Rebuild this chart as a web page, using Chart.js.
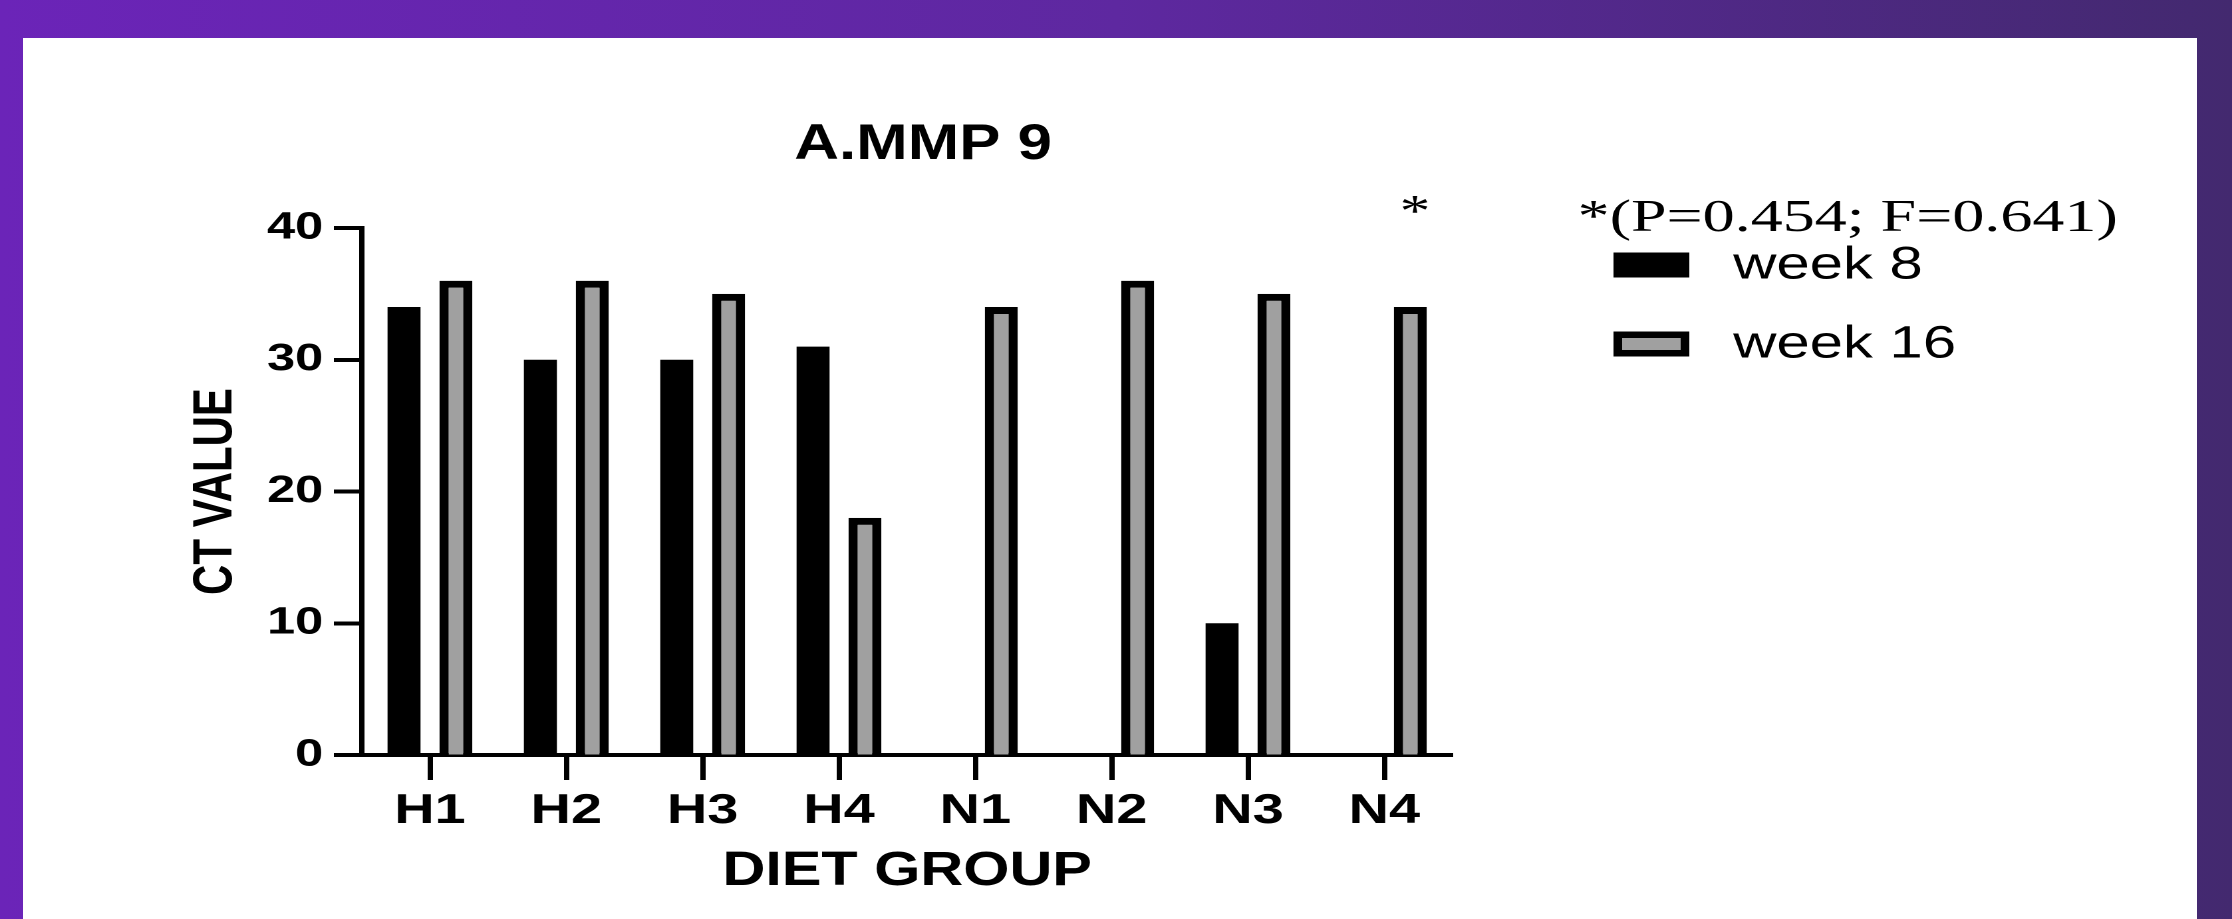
<!DOCTYPE html>
<html>
<head>
<meta charset="utf-8">
<script src="https://cdn.jsdelivr.net/npm/chart.js@4.4.1/dist/chart.umd.min.js"></script>
<style>
  html, body { margin: 0; padding: 0; width: 2232px; height: 919px; overflow: hidden; }
  body { background: linear-gradient(90deg, #6b24b8 0%, #5e28a0 50%, #43296f 100%); position: relative; }
  #card { position: absolute; left: 23px; top: 38px; width: 2174px; height: 881px; background: #ffffff; }
  #c { position: absolute; left: 0; top: 0; }
</style>
</head>
<body>
<div id="card"></div>
<canvas id="c" width="1678" height="919" style="width:2232px;height:919px;"></canvas>
<script>
// ---- data ----
const categories = ['H1', 'H2', 'H3', 'H4', 'N1', 'N2', 'N3', 'N4'];
const week8 = [34, 30, 30, 31, 0, 0, 10, 0];
const week16 = [36, 36, 35, 18, 34, 36, 35, 34];
const yTicks = [0, 10, 20, 30, 40];
const seriesLabels = ['week 8', 'week 16'];
const chartTitle = 'A.MMP 9';
const xTitle = 'DIET GROUP';
const yTitle = 'CT VALUE';
const statsNote = '*(P=0.454; F=0.641)';
const starMark = '*';

const SANS = '"Liberation Sans", Arial, sans-serif';
const SERIF = '"Liberation Serif", "Times New Roman", serif';

function scaledText(ctx, text, x, y, sx) {
  ctx.save();
  ctx.translate(x, y);
  ctx.scale(sx, 1);
  ctx.fillText(text, 0, 0);
  ctx.restore();
}

const notesPlugin = {
  id: 'notes',
  afterDraw(chart) {
    const ctx = chart.ctx;
    const area = chart.chartArea;
    const xs = chart.scales.x;
    ctx.save();
    ctx.fillStyle = '#000';
    // chart title
    ctx.font = 'bold 50px ' + SANS;
    ctx.textAlign = 'center';
    ctx.textBaseline = 'middle';
    scaledText(ctx, chartTitle, 694, 145, 0.93);
    // x axis title
    ctx.font = 'bold 48px ' + SANS;
    scaledText(ctx, xTitle, (area.left + area.right) / 2, 872, 0.93);
    // statistics note
    ctx.font = '45px ' + SERIF;
    ctx.textAlign = 'left';
    scaledText(ctx, statsNote, 1186, 219, 1.07);
    // star above last group
    ctx.font = '46px ' + SERIF;
    ctx.textAlign = 'center';
    ctx.textBaseline = 'alphabetic';
    ctx.fillText(starMark, xs.getPixelForValue(categories.length - 1) + 23, 226);
    // legend
    const centers = [265, 344];
    chart.data.datasets.forEach((ds, i) => {
      const cy = centers[i];
      const bx = 1213, bw = 57, bh = 25;
      ctx.fillStyle = ds.borderWidth ? ds.borderColor : ds.backgroundColor;
      ctx.fillRect(bx, cy - bh / 2, bw, bh);
      if (ds.borderWidth) {
        ctx.fillStyle = ds.backgroundColor;
        ctx.fillRect(bx + 6.5, cy - bh / 2 + 6.5, bw - 13, bh - 13);
      }
      ctx.fillStyle = '#000';
      ctx.font = '45px ' + SANS;
      ctx.textAlign = 'left';
      ctx.textBaseline = 'middle';
      ctx.fillText(ds.label, 1303, cy + 1);
    });
    ctx.restore();
  }
};

new Chart(document.getElementById('c'), {
  type: 'bar',
  data: {
    labels: categories,
    datasets: [
      { label: seriesLabels[0], data: week8, backgroundColor: '#000000', borderColor: '#000000', borderWidth: 0 },
      { label: seriesLabels[1], data: week16, backgroundColor: '#a0a0a0', borderColor: '#000000', borderWidth: 7 }
    ]
  },
  options: {
    responsive: false,
    devicePixelRatio: 2,
    animation: false,
    categoryPercentage: 0.761,
    barPercentage: 0.636,
    layout: { padding: { top: 228, left: 0, right: 586, bottom: 0 } },
    plugins: {
      legend: { display: false },
      tooltip: { enabled: false },
      title: { display: false }
    },
    scales: {
      x: {
        z: 1,
        offset: true,
        grid: { display: true, drawOnChartArea: false, offset: false, drawTicks: true, tickLength: 25, tickWidth: 4, tickColor: '#000' },
        border: { display: true, color: '#000', width: 4 },
        ticks: { color: '#000', padding: 6, font: { family: SANS, size: 42, weight: 'bold' }, maxRotation: 0 },
        title: { display: false },
        afterFit(scale) { scale.height = 164; }
      },
      y: {
        z: 1,
        min: 0,
        max: 40,
        afterBuildTicks(scale) { scale.ticks = yTicks.map(v => ({ value: v })); },
        grid: { display: true, drawOnChartArea: false, drawTicks: true, tickLength: 21, tickWidth: 4, tickColor: '#000' },
        border: { display: true, color: '#000', width: 4 },
        ticks: { color: '#000', padding: 8, font: { family: SANS, size: 38, weight: 'bold' } },
        title: { display: true, text: yTitle, color: '#000', font: { family: SANS, size: 42, weight: 'bold' }, padding: { top: 137, bottom: 0 } },
        afterFit(scale) { scale.width = 272; }
      }
    }
  },
  plugins: [notesPlugin]
});
</script>
</body>
</html>
